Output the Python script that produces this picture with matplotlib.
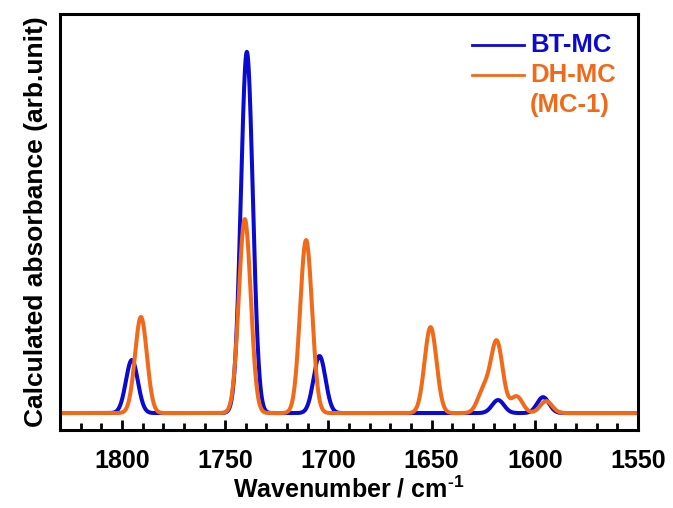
import numpy as np
import matplotlib.pyplot as plt
from matplotlib.lines import Line2D

plt.rcParams['font.family'] = ['Liberation Sans', 'DejaVu Sans']
plt.rcParams['font.weight'] = 'bold'
plt.rcParams['mathtext.fontset'] = 'custom'
plt.rcParams['mathtext.rm'] = 'Liberation Sans:bold'
plt.rcParams['mathtext.bf'] = 'Liberation Sans:bold'

# calculated band positions (cm-1) and relative intensities
bt_pos = [1795.2, 1739.5, 1704.3, 1617.8, 1596.0]
bt_int = [0.147, 1.000, 0.158, 0.036, 0.044]
dh_pos = [1790.8, 1740.5, 1710.8, 1650.5, 1624.8, 1618.4, 1608.8, 1594.5]
dh_int = [0.266, 0.537, 0.479, 0.238, 0.062, 0.196, 0.046, 0.033]

fwhm = 6.8
wn = np.linspace(1830, 1550, 2801)


def broaden(pos, inten, x, width):
    s = width / (2 * np.sqrt(2 * np.log(2)))
    y = np.zeros_like(x)
    for p, a in zip(pos, inten):
        y += a * np.exp(-0.5 * ((x - p) / s) ** 2)
    return y


blue = '#0a0ad0'
orange = '#f06a1a'

fig = plt.figure(figsize=(6.73, 5.08), dpi=100)
ax = fig.add_axes([0.0892, 0.1535, 0.8588, 0.819])

ax.plot(wn, broaden(bt_pos, bt_int, wn, fwhm), color=blue, lw=2.9)
ax.plot(wn, broaden(dh_pos, dh_int, wn, fwhm), color=orange, lw=2.9)

ax.set_xlim(1830, 1550)
ax.set_ylim(-0.047, 1.105)
ax.set_xticks(np.arange(1800, 1549, -50))
ax.set_xticks(np.arange(1820, 1549, -10), minor=True)
ax.set_yticks([])
ax.tick_params(axis='x', which='both', direction='in', width=2, labelsize=18, pad=14)
ax.tick_params(axis='x', which='major', length=7)
ax.tick_params(axis='x', which='minor', length=5)
for sp in ax.spines.values():
    sp.set_linewidth(2.2)

ax.set_xlabel(r'Wavenumber / cm$^{\text{-1}}$', fontsize=18, fontweight='bold', labelpad=2)
ax.set_ylabel('Calculated absorbance (arb.unit)', fontsize=19, fontweight='bold', labelpad=9)

# legend drawn by hand so the two-line label sits under its line
for yy, c in [(0.925, blue), (0.853, orange)]:
    ax.add_line(Line2D([0.713, 0.803], [yy, yy], color=c, lw=2, transform=ax.transAxes))
ax.text(0.813, 0.925, 'BT-MC', color=blue, fontsize=18.5, fontweight='bold',
        va='center', transform=ax.transAxes)
ax.text(0.813, 0.853, 'DH-MC', color=orange, fontsize=18.5, fontweight='bold',
        va='center', transform=ax.transAxes)
ax.text(0.813, 0.781, '(MC-1)', color=orange, fontsize=18.5, fontweight='bold',
        va='center', transform=ax.transAxes)

fig.savefig('out.png', dpi=100)
